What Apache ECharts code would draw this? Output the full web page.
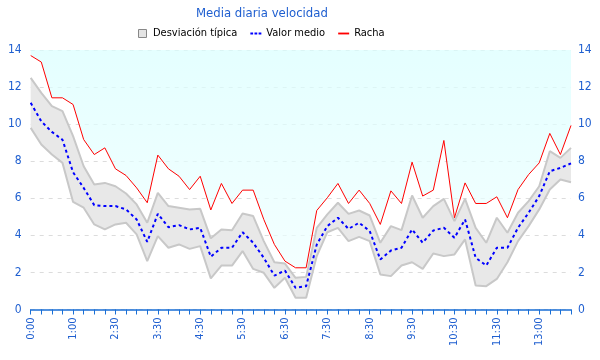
<!DOCTYPE html>
<html><head><meta charset="utf-8">
<script src="https://cdn.jsdelivr.net/npm/echarts/dist/echarts.min.js"></script>
<style>html,body{margin:0;padding:0;background:#fff}#c{width:600px;height:360px}</style>
</head><body><div id="c"></div><script>
const times=['0:00','0:15','0:30','0:45','1:00','1:15','1:30','2:00','2:30','2:45','3:00','3:15','3:30','3:45','4:00','4:15','4:30','4:45','5:00','5:15','5:30','5:45','6:00','6:15','6:30','6:45','7:00','7:15','7:30','7:45','8:00','8:15','8:30','8:45','9:00','9:15','9:30','9:45','10:00','10:15','10:30','10:45','11:00','11:15','11:30','11:45','12:15','12:45','13:00','13:15','13:30','13:45'];
const racha=[13.7,13.35,11.42,11.42,11.06,9.17,8.36,8.72,7.59,7.23,6.56,5.76,8.33,7.59,7.19,6.47,7.19,5.37,6.8,5.72,6.44,6.44,4.86,3.51,2.61,2.25,2.25,5.34,6.03,6.8,5.72,6.44,5.72,4.59,6.4,5.72,7.95,6.12,6.44,9.12,4.95,6.83,5.72,5.72,6.08,4.95,6.47,7.28,7.91,9.5,8.36,9.93];
const valorMedio=[11.15,10.15,9.58,9.16,7.4,6.56,5.63,5.58,5.58,5.4,4.86,3.65,5.16,4.44,4.55,4.32,4.41,2.85,3.33,3.33,4.17,3.6,2.79,1.83,2.1,1.17,1.26,3.5,4.5,4.95,4.35,4.68,4.23,2.7,3.18,3.33,4.32,3.6,4.26,4.41,3.87,4.86,2.79,2.37,3.33,3.33,4.41,5.22,6.12,7.46,7.64,7.88];
const desvSup=[12.5,11.69,10.97,10.7,9.35,7.73,6.74,6.83,6.65,6.26,5.67,4.68,6.29,5.58,5.49,5.4,5.43,3.84,4.32,4.28,5.18,5.04,3.69,2.55,2.48,1.71,1.76,4.4,5.13,5.76,5.16,5.34,5.07,3.6,4.5,4.28,6.15,4.95,5.58,5.97,4.77,5.97,4.4,3.6,4.95,4.14,5.22,5.85,6.65,8.54,8.18,8.72];
const desvInf=[9.8,8.9,8.36,7.91,5.8,5.49,4.59,4.32,4.59,4.68,4.05,2.61,3.96,3.33,3.51,3.27,3.42,1.68,2.37,2.37,3.15,2.19,1.98,1.17,1.71,0.63,0.63,2.88,4.17,4.4,3.69,3.92,3.69,1.89,1.8,2.37,2.55,2.19,3.02,2.88,2.97,3.78,1.3,1.26,1.65,2.55,3.69,4.5,5.4,6.47,7.01,6.87];
const yMin=0, yMax=14, yStep=2;

const FONT="'DejaVu Sans Condensed','Liberation Sans',sans-serif";
const BLUE_TXT='#1f5fd0';
const bandWidth=desvSup.map((v,i)=>+(v-desvInf[i]).toFixed(2));
const chart=echarts.init(document.getElementById('c'),null,{renderer:'canvas'});
const yAxisBase={type:'value',min:yMin,max:yMax,interval:yStep,
  axisLine:{show:false},axisTick:{show:false},
  axisLabel:{color:BLUE_TXT,fontSize:12,fontFamily:FONT}};
chart.setOption({
  animation:false,
  backgroundColor:'#ffffff',
  title:{text:'Media diaria velocidad',left:191,top:2,
    textStyle:{color:'#1f5fd0',fontSize:13,fontWeight:'normal',fontFamily:FONT}},
  legend:{top:23,left:133,itemWidth:11,itemHeight:8,itemGap:13,symbolKeepAspect:true,
    textStyle:{color:'#000',fontSize:11,fontFamily:FONT},
    data:[{name:'Desviación típica',icon:'path://M0,0H8V8H0Z',itemStyle:{color:'#e4e4e4',borderColor:'#888',borderWidth:1}},
          {name:'Valor medio',icon:'path://M0,0H3V2H0Z M4.5,0H7.5V2H4.5Z M9,0H12V2H9Z',itemStyle:{color:'#0000ff',borderWidth:0}},
          {name:'Racha',icon:'path://M0,0H12V2H0Z',itemStyle:{color:'#ff0000',borderWidth:0}}]},
  grid:{left:30.7,right:29,top:50,bottom:50.5,containLabel:false},
  xAxis:{type:'category',data:times,boundaryGap:false,
    axisLine:{lineStyle:{color:'#1a6fd6',width:1.5}},
    axisTick:{show:true,interval:0,length:5,lineStyle:{color:'#1a6fd6'}},
    axisLabel:{interval:3,rotate:90,color:BLUE_TXT,fontSize:11,fontFamily:FONT,margin:8},
    splitLine:{show:false}},
  yAxis:[Object.assign({},yAxisBase,{position:'left',
      axisLabel:Object.assign({},yAxisBase.axisLabel,{margin:9}),
      splitLine:{show:true,lineStyle:{color:'#dcdcdc',type:[4,5]}}}),
    Object.assign({},yAxisBase,{position:'right',
      axisLabel:Object.assign({},yAxisBase.axisLabel,{margin:7}),
      splitLine:{show:false}})],
  series:[
    {type:'line',name:'_fill',data:racha,symbol:'none',silent:true,z:1,
     lineStyle:{opacity:0},
     areaStyle:{origin:'end',color:new echarts.graphic.LinearGradient(0,0,0,1,[{offset:0,color:'#d9ffff'},{offset:1,color:'#eeffff'}])}},
    {type:'line',name:'_inf',data:desvInf,stack:'d',symbol:'none',silent:true,z:3,
     lineStyle:{color:'#c8c8c8',width:2}},
    {type:'line',name:'Desviación típica',data:bandWidth,stack:'d',symbol:'none',z:2,
     itemStyle:{color:'#e4e4e4',borderColor:'#888'},
     lineStyle:{color:'#c8c8c8',width:2},
     areaStyle:{color:'#e8e8e8',opacity:1}},
    {type:'line',name:'Valor medio',data:valorMedio,symbol:'none',z:4,
     itemStyle:{color:'#0000ff'},
     lineStyle:{color:'#0000ff',width:2,type:[3,3]}},
    {type:'line',name:'Racha',data:racha,symbol:'none',z:5,
     itemStyle:{color:'#ff0000'},
     lineStyle:{color:'#ff0000',width:1}}
  ]
});
</script></body></html>
